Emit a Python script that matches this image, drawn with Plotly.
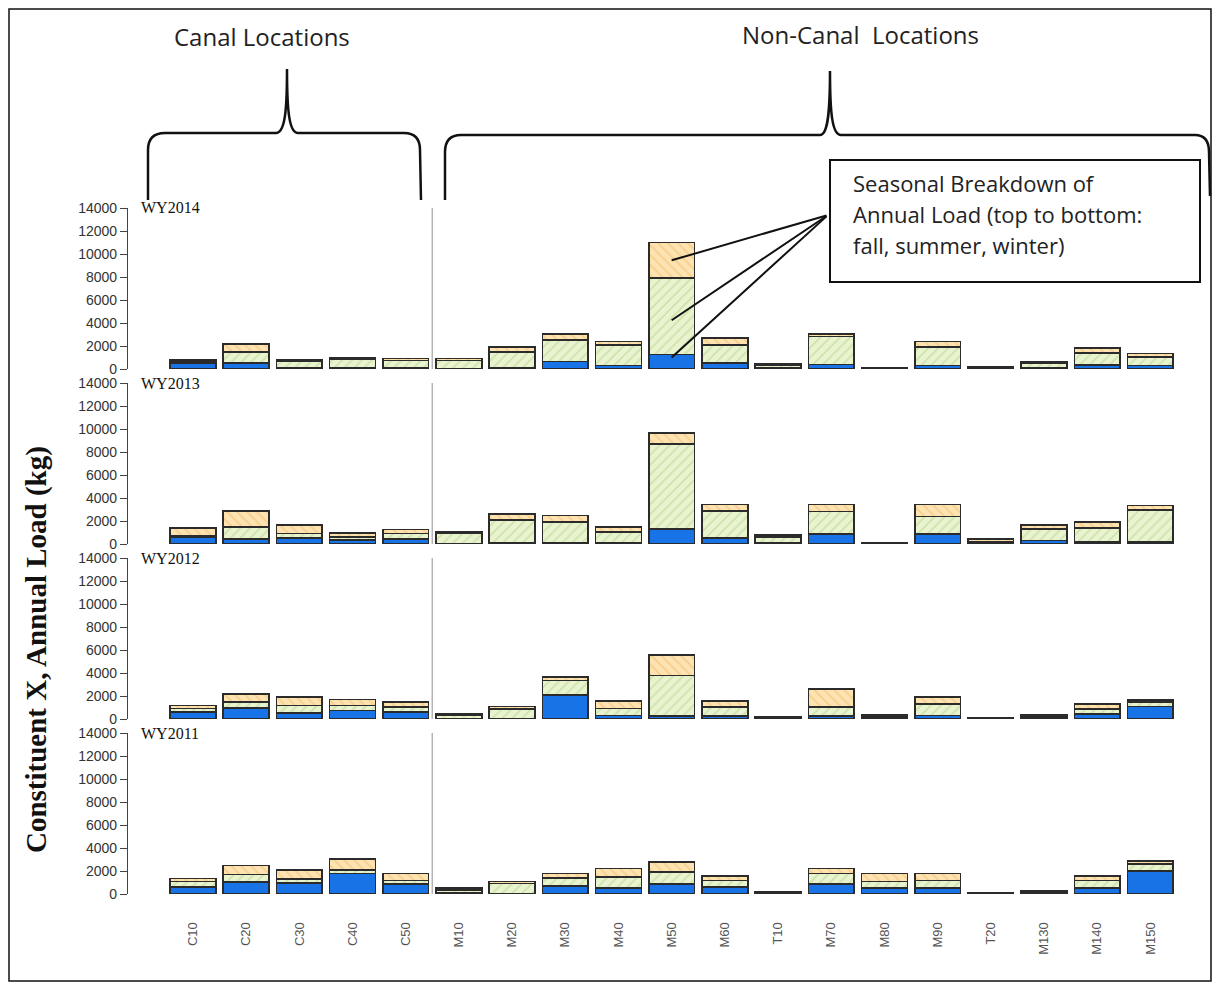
import plotly.graph_objects as go

# ---------------- data ----------------
locations = ["C10", "C20", "C30", "C40", "C50", "M10", "M20", "M30", "M40", "M50",
             "M60", "T10", "M70", "M80", "M90", "T20", "M130", "M140", "M150"]
years = ["WY2014", "WY2013", "WY2012", "WY2011"]

# seasonal loads (kg), bottom to top: winter, summer, fall
winter_2014 = [500, 500, 100, 100, 100, 50, 100, 650, 300, 1250, 540, 100, 390, 30, 300, 50, 100, 360, 300]
summer_2014 = [200, 1000, 550, 750, 650, 700, 1400, 1880, 1780, 6650, 1540, 250, 2440, 40, 1630, 50, 400, 1040, 740]
fall_2014 = [100, 650, 150, 150, 150, 150, 400, 500, 300, 3100, 600, 100, 200, 30, 450, 50, 150, 450, 300]

winter_2013 = [600, 450, 540, 360, 450, 50, 100, 100, 100, 1280, 540, 100, 890, 30, 890, 50, 300, 200, 200]
summer_2013 = [100, 1040, 360, 240, 450, 850, 1980, 1830, 940, 7410, 2350, 500, 1940, 40, 1490, 150, 980, 1200, 2780]
fall_2013 = [700, 1400, 740, 380, 350, 140, 510, 540, 450, 980, 530, 200, 590, 30, 1040, 250, 360, 530, 380]

winter_2012 = [600, 980, 540, 740, 600, 50, 50, 2080, 300, 240, 240, 50, 240, 100, 300, 30, 100, 450, 1100]
summer_2012 = [300, 510, 650, 450, 440, 250, 840, 1280, 600, 3540, 800, 50, 800, 150, 980, 40, 150, 440, 390]
fall_2012 = [290, 680, 740, 510, 450, 150, 210, 300, 650, 1790, 540, 50, 1550, 140, 650, 30, 140, 390, 150]

winter_2011 = [600, 1040, 980, 1790, 890, 100, 50, 680, 540, 890, 600, 50, 890, 540, 540, 40, 100, 540, 1990]
summer_2011 = [500, 660, 300, 290, 300, 250, 850, 720, 950, 1040, 590, 100, 900, 560, 650, 40, 100, 650, 600]
fall_2011 = [240, 770, 800, 950, 600, 150, 200, 390, 740, 840, 390, 50, 440, 690, 600, 40, 100, 390, 300]

winter_by_year = [winter_2014, winter_2013, winter_2012, winter_2011]
summer_by_year = [summer_2014, summer_2013, summer_2012, summer_2011]
fall_by_year = [fall_2014, fall_2013, fall_2012, fall_2011]

y_ticks = [0, 2000, 4000, 6000, 8000, 10000, 12000, 14000]

# ---------------- styling / layout helpers ----------------
OFF = 8                      # page body margin
W, H = 1220 - 2 * OFF, 990 - 2 * OFF


def fx(px):
    return (px - OFF) / W


def fy(py):
    return 1 - (py - OFF) / H


def P(px, py):
    return f"{fx(px):.5f},{fy(py):.5f}"


WINTER = "#1874E6"
SUMMER_BG, SUMMER_FG = "#E9F3CF", "#A6CB78"
FALL_BG, FALL_FG = "#FDE3B2", "#F0B157"
OUTLINE = dict(color="#2b2b2b", width=1.6)

AX_LEFT, AX_RIGHT = 128, 1177
X_RANGE = [-1.22, 18.5]
panel_tops = [208, 383, 558, 733]
PANEL_H = 161
YMAX = 14000

fig = go.Figure()
layout = {}
annotations = []
shapes = []

for i, yr in enumerate(years):
    xa = "x" if i == 0 else f"x{i + 1}"
    ya = "y" if i == 0 else f"y{i + 1}"
    xkey = "xaxis" if i == 0 else f"xaxis{i + 1}"
    ykey = "yaxis" if i == 0 else f"yaxis{i + 1}"
    top = panel_tops[i]

    fig.add_trace(go.Bar(x=locations, y=winter_by_year[i], xaxis=xa, yaxis=ya, width=0.86,
                         marker=dict(color=WINTER, line=OUTLINE), showlegend=False, name="winter"))
    fig.add_trace(go.Bar(x=locations, y=summer_by_year[i], xaxis=xa, yaxis=ya, width=0.86,
                         marker=dict(color=SUMMER_BG, line=OUTLINE,
                                     pattern=dict(shape="/", bgcolor=SUMMER_BG, fgcolor=SUMMER_FG,
                                                  size=7, solidity=0.2, fillmode="overlay")),
                         showlegend=False, name="summer"))
    fig.add_trace(go.Bar(x=locations, y=fall_by_year[i], xaxis=xa, yaxis=ya, width=0.86,
                         marker=dict(color=FALL_BG, line=OUTLINE,
                                     pattern=dict(shape="\\", bgcolor=FALL_BG, fgcolor=FALL_FG,
                                                  size=7, solidity=0.22, fillmode="overlay")),
                         showlegend=False, name="fall"))

    layout[xkey] = dict(domain=[fx(AX_LEFT), fx(AX_RIGHT)], anchor=ya, type="category",
                        categoryorder="array", categoryarray=locations, range=X_RANGE,
                        showline=False, showgrid=False, zeroline=False,
                        showticklabels=(i == 3), tickangle=-90,
                        ticks="outside" if i == 3 else "", ticklen=22, tickcolor="rgba(0,0,0,0)",
                        tickfont=dict(family="Liberation Sans", size=13, color="#555"),
                        automargin=False)
    layout[ykey] = dict(domain=[fy(top + PANEL_H), fy(top)], anchor=xa, range=[0, YMAX],
                        tickvals=y_ticks, ticktext=[str(v) for v in y_ticks],
                        ticks="outside", ticklen=7, tickcolor="#444", showline=True,
                        linecolor="#444", linewidth=1.2, showgrid=False, zeroline=False,
                        tickfont=dict(family="Liberation Sans", size=14, color="#333"),
                        automargin=False)

    annotations.append(dict(text=yr, xref="paper", yref=f"{ya} domain", x=fx(139), y=1.0,
                            xanchor="left", yanchor="middle", showarrow=False,
                            font=dict(family="Liberation Serif", size=16, color="#111")))
    shapes.append(dict(type="line", xref=xa, yref=f"{ya} domain", x0=4.5, x1=4.5, y0=0, y1=1.0,
                       line=dict(color="#b4b4b4", width=1.5), layer="below"))

# leader lines from the callout box to the M50 WY2014 bar segments
m50 = locations.index("M50")
w, s, f = winter_2014[m50], summer_2014[m50], fall_2014[m50]
unit = (AX_RIGHT - AX_LEFT) / (X_RANGE[1] - X_RANGE[0])
m50_px = AX_LEFT + (m50 - X_RANGE[0]) * unit
tail = (828, 215)
for val in [w + s + f * 0.5, w + s * 0.45, w * 0.8]:
    py = panel_tops[0] + PANEL_H - val / YMAX * PANEL_H
    annotations.append(dict(x="M50", y=val, xref="x", yref="y", text="", showarrow=True,
                            ax=tail[0] - m50_px, ay=tail[1] - py, axref="pixel", ayref="pixel",
                            arrowhead=0, arrowwidth=2, arrowcolor="#111", standoff=0, startstandoff=0))

# headers
annotations.append(dict(text="Canal Locations", xref="paper", yref="paper", x=fx(262), y=fy(37),
                        xanchor="center", yanchor="middle", showarrow=False,
                        font=dict(family="Open Sans", size=24, color="#222")))
annotations.append(dict(text="Non-Canal  Locations", xref="paper", yref="paper", x=fx(860), y=fy(35),
                        xanchor="center", yanchor="middle", showarrow=False,
                        font=dict(family="Open Sans", size=24, color="#222")))

# callout text
for txt, py in [("Seasonal Breakdown of", 183), ("Annual Load (top to bottom:", 214),
                ("fall, summer, winter)", 245)]:
    annotations.append(dict(text=txt, xref="paper", yref="paper", x=fx(851), y=fy(py),
                            xanchor="left", yanchor="middle", showarrow=False,
                            font=dict(family="Open Sans", size=22, color="#222")))

# y title
annotations.append(dict(text="<b>Constituent X, Annual Load (kg)</b>", xref="paper", yref="paper",
                        x=fx(36), y=fy(650), xanchor="center", yanchor="middle", textangle=-90,
                        showarrow=False, font=dict(family="Liberation Serif", size=29, color="#111")))

# page border
shapes.append(dict(type="rect", xref="paper", yref="paper", x0=fx(9), x1=fx(1211), y0=fy(981), y1=fy(9),
                   line=dict(color="#111", width=1.5)))

# braces
left_brace = ("M " + P(148, 200) + " L " + P(148, 150) + " Q " + P(148, 133) + " " + P(165, 133) +
              " L " + P(276, 133) + " C " + P(285, 133) + " " + P(287, 110) + " " + P(287, 69) +
              " C " + P(287, 110) + " " + P(289, 133) + " " + P(298, 133) +
              " L " + P(404, 133) + " Q " + P(420, 133) + " " + P(420, 150) + " L " + P(421, 200))
right_brace = ("M " + P(445, 200) + " L " + P(445, 152) + " Q " + P(445, 135) + " " + P(461, 135) +
               " L " + P(820, 135) + " C " + P(828, 135) + " " + P(830, 112) + " " + P(830, 71) +
               " C " + P(830, 112) + " " + P(832, 135) + " " + P(841, 135) +
               " L " + P(1195, 135) + " Q " + P(1209, 135) + " " + P(1209, 152) + " L " + P(1210, 196))
for pth in [left_brace, right_brace]:
    shapes.append(dict(type="path", xref="paper", yref="paper", path=pth,
                       line=dict(color="#111", width=2.5)))

# callout box
shapes.append(dict(type="rect", xref="paper", yref="paper", x0=fx(830), x1=fx(1200), y0=fy(282), y1=fy(160),
                   line=dict(color="#111", width=2), fillcolor="white", layer="above"))

fig.update_layout(**layout)
fig.update_layout(barmode="stack", bargap=0.14, width=W, height=H, autosize=False,
                  margin=dict(l=0, r=0, t=0, b=0), paper_bgcolor="white", plot_bgcolor="white",
                  showlegend=False, annotations=annotations, shapes=shapes,
                  font=dict(family="Liberation Sans"))

fig.write_html("out.html")
